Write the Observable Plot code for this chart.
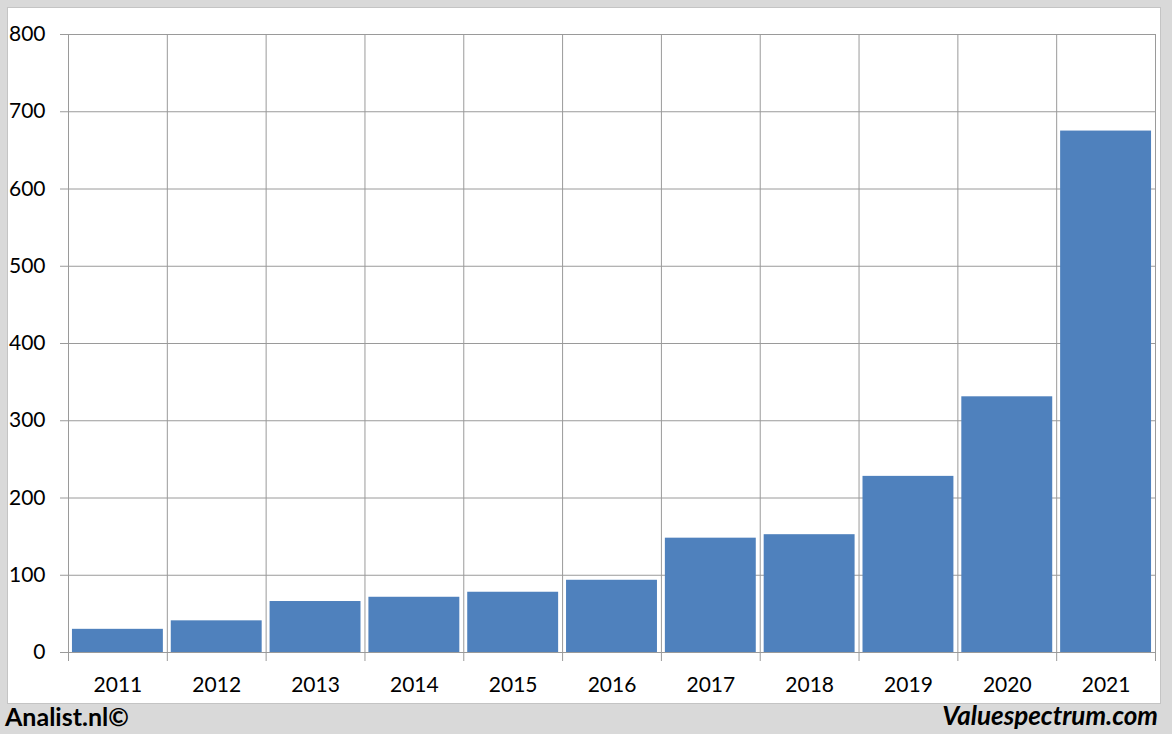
<!DOCTYPE html>
<html><head><meta charset="utf-8">
<script src="https://cdn.jsdelivr.net/npm/d3@7"></script>
<script src="https://cdn.jsdelivr.net/npm/@observablehq/plot@0.6"></script>
<style>
html,body{margin:0;padding:0;background:#d9d9d9;width:1172px;height:734px;overflow:hidden;font-family:Lato,sans-serif}
#panel{position:absolute;left:7px;top:7px;width:1152px;height:695px;background:#fff;border:1px solid #c4c4c4}
#left{position:absolute;left:5px;top:701px;font:bold 25px Lato,sans-serif;line-height:1.2;color:#000}
#right{position:absolute;right:14px;top:700px;font:italic bold 26px Lato,sans-serif;line-height:1.2;color:#000}
</style>
</head><body>
<div id="panel"></div>
<div id="left">Analist.nl©</div>
<div id="right">Valuespectrum.com</div>
<script>
const years = [2011, 2012, 2013, 2014, 2015, 2016, 2017, 2018, 2019, 2020, 2021];
const values = [30, 41, 66, 71.5, 78, 93.5, 148, 152.5, 228, 331, 675];
const yTicks = [0, 100, 200, 300, 400, 500, 600, 700, 800];

const data = years.map((year, i) => ({year, value: values[i]}));
const boundaries = [years[0] - 0.5, ...years.map(y => y + 0.5)];
const half = 0.46;

const chart = Plot.plot({
  width: 1152,
  height: 695,
  marginLeft: 60,
  marginRight: 5,
  marginTop: 26,
  marginBottom: 51,
  style: {fontFamily: "Lato, sans-serif", fontSize: "21px", color: "#000", background: "transparent"},
  x: {type: "linear", domain: [years[0] - 0.5, years[years.length - 1] + 0.5]},
  y: {domain: [0, 800]},
  marks: [
    Plot.ruleY(yTicks, {stroke: "#9a9a9a", strokeWidth: 1, insetLeft: -8}),
    Plot.ruleX(boundaries, {stroke: "#9a9a9a", strokeWidth: 1, insetBottom: -9}),
    Plot.rectY(data, {x1: d => d.year - half, x2: d => d.year + half, y: "value", fill: "#4f81bd"}),
    Plot.axisY({ticks: yTicks, tickSize: 0, tickPadding: 23, fontSize: 21, label: null}),
    Plot.axisX({ticks: years, tickFormat: d => String(d), tickSize: 0, tickPadding: 25, fontSize: 21, label: null})
  ]
});
document.getElementById("panel").appendChild(chart);
</script>
</body></html>
